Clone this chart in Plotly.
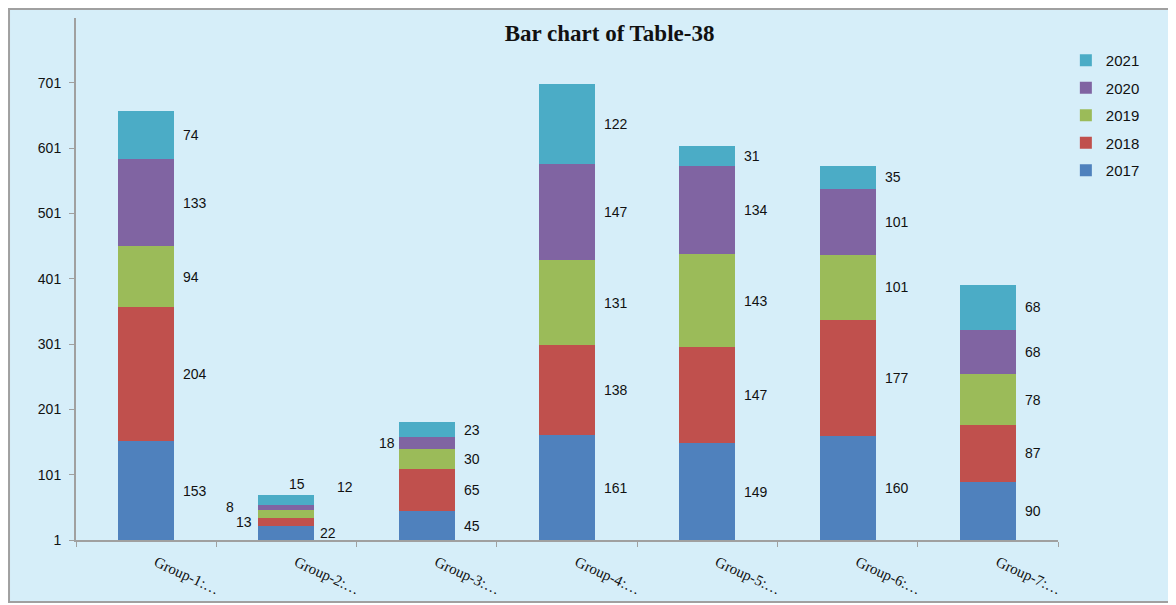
import plotly.graph_objects as go

# chart data
groups = ["Group-1:…", "Group-2:…", "Group-3:…", "Group-4:…", "Group-5:…", "Group-6:…", "Group-7:…"]
years = ["2017", "2018", "2019", "2020", "2021"]
v2017 = [153, 22, 45, 161, 149, 160, 90]
v2018 = [204, 13, 65, 138, 147, 177, 87]
v2019 = [94, 12, 30, 131, 143, 101, 78]
v2020 = [133, 8, 18, 147, 134, 101, 68]
v2021 = [74, 15, 23, 122, 31, 35, 68]
y_ticks = [1, 101, 201, 301, 401, 501, 601, 701]

series = [v2017, v2018, v2019, v2020, v2021]
colors = ["#4F81BD", "#C0504D", "#9BBB59", "#8064A2", "#4BACC6"]
bg = "#D6EEF9"

# label placement overrides (group index, series index) -> (xanchor, xshift, yshift)
label_moves = {
    (1, 0): ("left", 32, 0),
    (1, 1): ("right", -32, 0),
    (1, 2): ("left", 49, 27),
    (1, 3): ("right", -50, 0),
    (1, 4): ("center", 11, 0),
    (2, 3): ("right", -30, 0),
}

fig = go.Figure()
for i, (yr, vals, col) in enumerate(zip(years, series, colors)):
    fig.add_trace(go.Bar(name=yr, x=groups, y=vals, marker=dict(color=col, line=dict(width=0)),
                         legendgroup=yr, legendrank=len(years) - i))

# data labels
for gi, g in enumerate(groups):
    base = 0
    for si, vals in enumerate(series):
        v = vals[gi]
        xa, xs, ys = label_moves.get((gi, si), ("left", 35, 0))
        ya = "middle"
        yy = base + v / 2
        if (gi, si) == (1, 4):
            yy = base + v
            ya = "bottom"
            ys = 1
        fig.add_annotation(x=g, y=yy, text=str(v), showarrow=False, xanchor=xa, yanchor=ya,
                           xshift=xs, yshift=ys,
                           font=dict(family="Liberation Sans", size=14, color="#111111"))
        base += v

# outer frame
fig.add_shape(type="rect", xref="paper", yref="paper", x0=-0.0682, x1=1.1161, y0=-0.1188, y1=1.0172,
              fillcolor=bg, line=dict(color="#A0A0A0", width=2), layer="below")

fig.update_layout(
    width=1168, height=597,
    barmode="stack", bargap=0.6,
    paper_bgcolor="white", plot_bgcolor="rgba(0,0,0,0)",
    margin=dict(l=68, r=118, t=10, b=65, autoexpand=False),
    title=dict(text="<b>Bar chart of Table-38</b>", x=0.515, y=0.958, xanchor="center", yanchor="middle",
               font=dict(family="Liberation Serif", size=23, color="#111111")),
    legend=dict(x=1.008, y=0.950, xanchor="left", yanchor="top", traceorder="grouped",
                tracegroupgap=5, bgcolor="rgba(0,0,0,0)",
                font=dict(family="Liberation Sans", size=15, color="#111111")),
    showlegend=True,
)
fig.update_yaxes(range=[1, 800], tickvals=y_ticks, showgrid=False, zeroline=False, automargin=False,
                 showline=True, linecolor="#A0A0A0", linewidth=2,
                 ticks="outside", ticklen=5, tickcolor="#A0A0A0", ticklabelstandoff=5,
                 tickfont=dict(family="Liberation Sans", size=14, color="#111111"))
fig.update_xaxes(showgrid=False, showline=True, linecolor="#A0A0A0", linewidth=2, automargin=False,
                 ticks="outside", ticklen=5, tickcolor="#A0A0A0", tickson="boundaries",
                 tickangle=25, ticklabelshift=10, ticklabelstandoff=6,
                 tickfont=dict(family="Liberation Serif", size=15, color="#111111"))

fig.write_html("out.html")
